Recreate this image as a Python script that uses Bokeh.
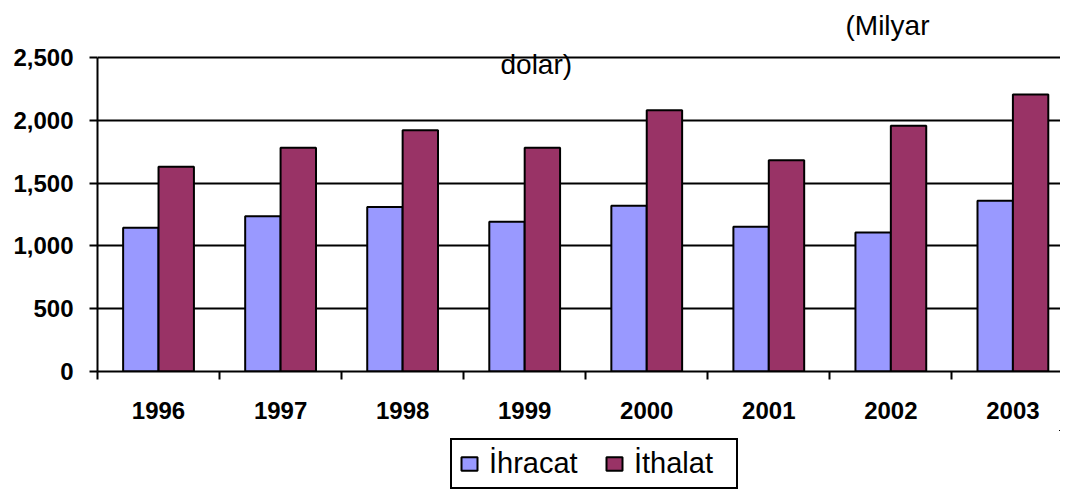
from bokeh.plotting import figure
from bokeh.layouts import column
from bokeh.models import (ColumnDataSource, Range1d, FixedTicker, Legend, LegendItem,
                          Label, NumeralTickFormatter)
from bokeh.transform import dodge
from bokeh.embed import file_html
from bokeh.resources import INLINE

years = ["1996", "1997", "1998", "1999", "2000", "2001", "2002", "2003"]
ihracat = [1145, 1237, 1309, 1192, 1319, 1152, 1106, 1359]
ithalat = [1630, 1782, 1920, 1782, 2081, 1683, 1957, 2205]
y_ticks = [0, 500, 1000, 1500, 2000, 2500]
series_names = ["İhracat", "İthalat"]
series_colors = ["#9999FF", "#993366"]

FONT = "Liberation Sans"
centers = [i + 0.5 for i in range(len(years))]
src = ColumnDataSource(dict(x=centers, ihracat=ihracat, ithalat=ithalat))

# main chart: the frame reaches the top of the canvas so the title texts are not clipped
p = figure(width=1060, height=430, output_backend="svg", toolbar_location=None,
           x_range=Range1d(0, 7.89), y_range=Range1d(0, 2954),
           min_border_left=97, min_border_right=0, min_border_top=0,
           min_border_bottom=59, outline_line_color=None,
           background_fill_color="white", border_fill_color="white")

bw = 0.29
for key, off, col in [("ihracat", -bw / 2, series_colors[0]), ("ithalat", bw / 2, series_colors[1])]:
    p.vbar(x=dodge("x", off, range=p.x_range), top=key, width=bw, source=src,
           fill_color=col, line_color="black", line_width=2)

# x axis
xa = p.xaxis[0]
xa.ticker = FixedTicker(ticks=centers, minor_ticks=list(range(len(years) + 1)))
xa.major_label_overrides = {c: y for c, y in zip(centers, years)}
xa.major_tick_line_color = None
xa.major_tick_out = 8
xa.major_tick_in = 0
xa.minor_tick_line_color = "black"
xa.minor_tick_line_width = 2
xa.minor_tick_out = 8
xa.minor_tick_in = 0
xa.axis_line_color = "black"
xa.axis_line_width = 2
xa.major_label_text_font = FONT
xa.major_label_text_font_style = "bold"
xa.major_label_text_font_size = "24px"
xa.major_label_text_color = "black"
xa.major_label_standoff = 22

# y axis
ya = p.yaxis[0]
ya.ticker = FixedTicker(ticks=y_ticks)
ya.bounds = (0, 2500)
ya.formatter = NumeralTickFormatter(format="0,0")
ya.major_tick_line_color = "black"
ya.major_tick_line_width = 2
ya.major_tick_out = 8
ya.major_tick_in = 0
ya.minor_tick_line_color = None
ya.axis_line_color = "black"
ya.axis_line_width = 2
ya.major_label_text_font = FONT
ya.major_label_text_font_style = "bold"
ya.major_label_text_font_size = "24px"
ya.major_label_text_color = "black"
ya.major_label_standoff = 16

p.xgrid.grid_line_color = None
p.ygrid.ticker = FixedTicker(ticks=y_ticks)
p.ygrid.grid_line_color = "black"
p.ygrid.grid_line_width = 2

# title, wrapped in two pieces as in the original
p.add_layout(Label(x=748, y=346, x_units="screen", y_units="screen", text="(Milyar",
                   text_font=FONT, text_font_size="28px", text_color="black",
                   text_baseline="alphabetic"))
p.add_layout(Label(x=403, y=307, x_units="screen", y_units="screen", text="dolar)",
                   text_font=FONT, text_font_size="28px", text_color="black",
                   text_baseline="alphabetic"))

# legend strip below the chart; its glyphs sit outside the visible ranges
lf = figure(width=1060, height=62, output_backend="svg", toolbar_location=None,
            x_range=Range1d(-20, -19), y_range=Range1d(-20, -19), min_border=0,
            outline_line_color=None, background_fill_color="white",
            border_fill_color="white")
lf.axis.visible = False
lf.grid.visible = False
lr1 = lf.vbar(x="x", top="ihracat", width=bw, source=src,
              fill_color=series_colors[0], line_color="black", line_width=2)
lr2 = lf.vbar(x="x", top="ithalat", width=bw, source=src,
              fill_color=series_colors[1], line_color="black", line_width=2)

legend = Legend(items=[LegendItem(label=series_names[0], renderers=[lr1]),
                       LegendItem(label=series_names[1], renderers=[lr2])],
                orientation="horizontal", location=(353, 3),
                label_text_font=FONT, label_text_font_size="29px",
                label_text_color="black", glyph_width=20, glyph_height=17,
                label_standoff=10, label_width=95, spacing=20, padding=7, margin=0,
                border_line_color="black", border_line_width=2, border_line_alpha=1,
                background_fill_color="white", background_fill_alpha=1)
lf.add_layout(legend)

layout = column(p, lf, spacing=0)
open("out.html", "w").write(file_html(layout, INLINE))
